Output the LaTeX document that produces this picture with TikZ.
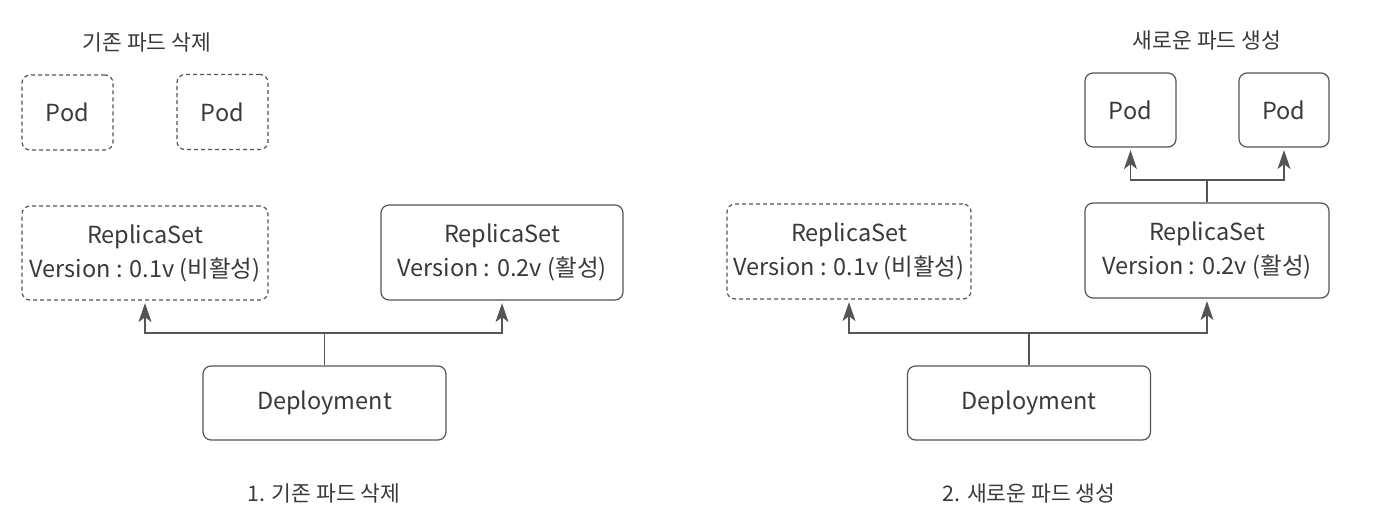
\documentclass[tikz,border=0pt]{standalone}
\usepackage{fontspec}
\setmainfont{Noto Sans CJK KR}
\usetikzlibrary{arrows.meta}
\definecolor{ln}{HTML}{555555}
\definecolor{tx}{HTML}{3A3A3A}
\tikzset{
  box/.style={draw=ln, line width=1.2pt, rounded corners=8pt, text=tx, align=center, inner sep=0pt, font=\fontsize{23.5}{34}\selectfont},
  dbox/.style={box, dash pattern=on 4pt off 3pt},
  arr/.style={draw=ln, line width=1.2pt, shorten >=2.5pt, -{Stealth[length=19pt,width=13pt,inset=5pt]}},
  ln/.style={draw=ln, line width=1.2pt},
  lbl/.style={text=tx, inner sep=0pt, font=\fontsize{21.5}{24}\selectfont}
}
\begin{document}
\begin{tikzpicture}[x=1pt,y=-1pt]
\useasboundingbox[fill=white] (0,0) rectangle (1374,530);
% left panel
\node[lbl] (t1) at (147,42) {기존 파드 삭제};
\node[dbox, minimum width=91pt, minimum height=75pt] (p1) at (67.5,112.5) {Pod};
\node[dbox, minimum width=91pt, minimum height=75pt] (p2) at (222.5,112) {Pod};
\node[dbox, minimum width=246pt, minimum height=94pt] (rs1) at (145,253) {ReplicaSet\\Version : 0.1v (비활성)};
\node[box, minimum width=242pt, minimum height=95pt] (rs2) at (502,252.5) {ReplicaSet\\Version : 0.2v (활성)};
\node[box, minimum width=243pt, minimum height=74pt] (d1) at (324.5,403) {Deployment};
\node[lbl] (c1) at (324,493) {1. 기존 파드 삭제};
\coordinate (j1) at (324.5,333);
\draw[ln] (d1.north) -- (j1);
\draw[arr] (j1) -| (rs1.south);
\draw[arr] (j1) -| (rs2.south);
% right panel
\node[lbl] (t2) at (1207,40) {새로운 파드 생성};
\node[box, minimum width=91pt, minimum height=74pt] (p3) at (1130.5,110) {Pod};
\node[box, minimum width=90pt, minimum height=74pt] (p4) at (1284,110) {Pod};
\node[dbox, minimum width=244pt, minimum height=95pt] (rs3) at (849,251.5) {ReplicaSet\\Version : 0.1v (비활성)};
\node[box, minimum width=244pt, minimum height=95pt] (rs4) at (1207,250.5) {ReplicaSet\\Version : 0.2v (활성)};
\node[box, minimum width=243pt, minimum height=74pt] (d2) at (1029,403) {Deployment};
\node[lbl] (c2) at (1029,493) {2. 새로운 파드 생성};
\coordinate (j2) at (1029,333);
\draw[ln] (d2.north) -- (j2);
\draw[arr] (j2) -| (rs3.south);
\draw[arr] (j2) -| (rs4.south);
\coordinate (j3) at (1207,180);
\draw[ln] (rs4.north) -- (j3);
\draw[arr] (j3) -| (p3.south);
\draw[arr] (j3) -| (p4.south);
\end{tikzpicture}
\end{document}
